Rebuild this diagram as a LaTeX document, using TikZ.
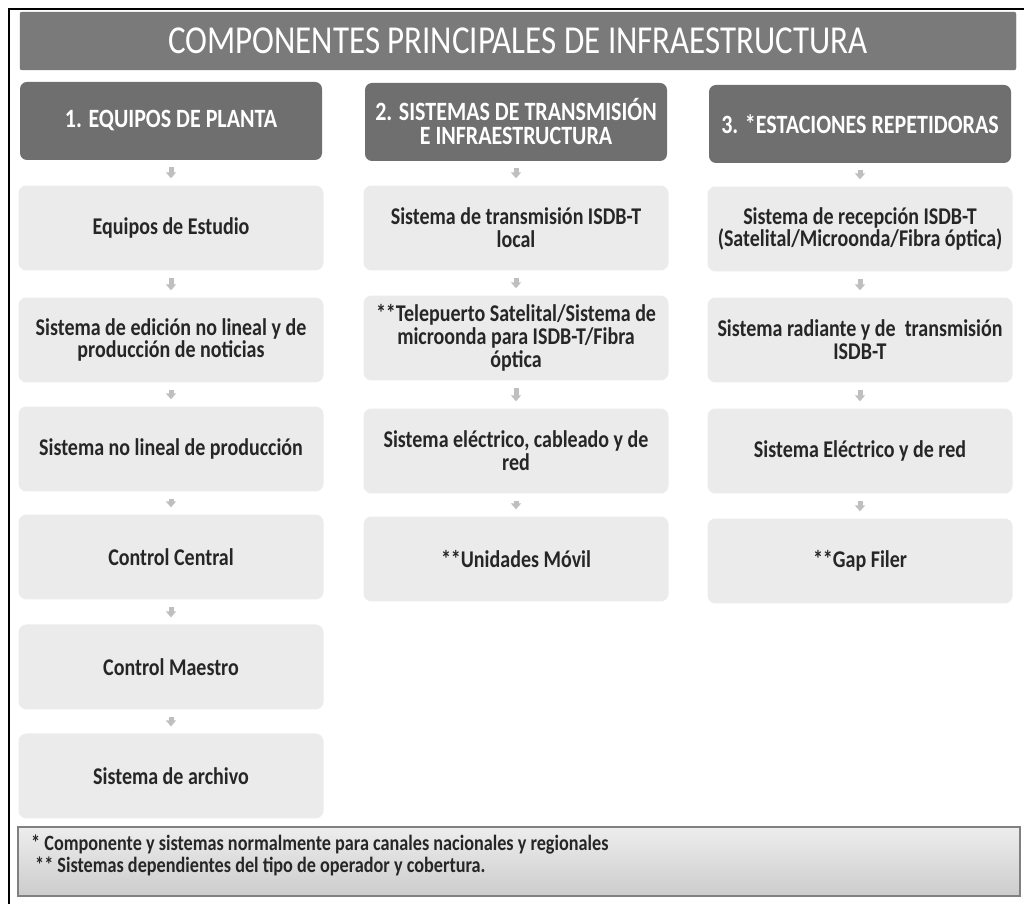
\documentclass[tikz,border=0pt]{standalone}
\usepackage{fontspec}
\setmainfont{Carlito}
\usetikzlibrary{arrows.meta}

\definecolor{titulogris}{HTML}{7A7A7A}
\definecolor{cabgris}{HTML}{6F6F6F}
\definecolor{cajagris}{HTML}{EBEBEB}
\definecolor{textogris}{HTML}{262626}
\definecolor{flechagris}{HTML}{BFBFBF}

\tikzset{
	titulo/.style={rectangle, rounded corners=2pt, fill=titulogris, draw=black!55, text=white,
		font=\fontsize{33}{33}\selectfont, minimum width=996pt, minimum height=48.3pt},
	cabecera/.style={rectangle, rounded corners=7pt, fill=cabgris, text=white, align=center,
		font=\bfseries\fontsize{22}{20}\selectfont, minimum width=302pt, minimum height=65pt},
	caja/.style={rectangle, rounded corners=8pt, fill=cajagris, text=textogris, align=center,
		font=\bfseries\fontsize{20}{19}\selectfont, minimum width=305pt, minimum height=70.8pt},
	pie/.style={rectangle, draw=black!50, line width=1.2pt, top color=black!7, bottom color=black!20,
		minimum width=1002pt, minimum height=57.5pt},
	notas/.style={inner sep=0pt, align=left, text=textogris, font=\bfseries\fontsize{18.2}{18.3}\selectfont},
	flecha/.style={-{Triangle[width=10pt,length=6pt]}, line width=5pt, draw=flechagris,
		shorten <=7pt, shorten >=7pt}
}

\begin{document}
\begin{tikzpicture}[x=1pt, y=-0.8333pt, yscale=1.2, transform shape]
	\useasboundingbox (0,0) rectangle (1024,904);
	\clip (0,0) rectangle (1024,904);
	\draw [line width=1.5pt] (9,9) rectangle (1040,920);

	\node[titulo] (titulo) at (518,41) {COMPONENTES PRINCIPALES DE INFRAESTRUCTURA};

	% cabeceras
	\node[cabecera] (c1) at (171,121) {1. EQUIPOS DE PLANTA};
	\node[cabecera] (c2) at (516,122) {2. SISTEMAS DE TRANSMISIÓN\\E INFRAESTRUCTURA};
	\node[cabecera] (c3) at (860,124) {3. *ESTACIONES REPETIDORAS};

	% equipos de planta
	\node[caja] (e1) at (171,228) {Equipos de Estudio};
	\node[caja] (e2) at (171,340) {Sistema de edición no lineal y de\\producción de noticias};
	\node[caja] (e3) at (171,449) {Sistema no lineal de producción};
	\node[caja] (e4) at (171,557) {Control Central};
	\node[caja] (e5) at (171,667) {Control Maestro};
	\node[caja] (e6) at (171,776) {Sistema de archivo};

	% transmision
	\node[caja] (s1) at (516,228) {Sistema de transmisión ISDB-T\\local};
	\node[caja] (s2) at (516,338) {**Telepuerto Satelital/Sistema de\\microonda para ISDB-T/Fibra\\óptica};
	\node[caja] (s3) at (516,451) {Sistema eléctrico, cableado y de\\red};
	\node[caja] (s4) at (516,559) {**Unidades Móvil};

	% repetidoras
	\node[caja] (r1) at (860,229) {Sistema de recepción ISDB-T\\(Satelital/Microonda/Fibra óptica)};
	\node[caja] (r2) at (860,340) {Sistema radiante y de\ \ transmisión\\ISDB-T};
	\node[caja] (r3) at (860,451) {Sistema Eléctrico y de red};
	\node[caja] (r4) at (860,561) {**Gap Filer};

	\draw[flecha] (c1) -- (e1);
	\draw[flecha] (e1) -- (e2);
	\draw[flecha] (e2) -- (e3);
	\draw[flecha] (e3) -- (e4);
	\draw[flecha] (e4) -- (e5);
	\draw[flecha] (e5) -- (e6);

	\draw[flecha] (c2) -- (s1);
	\draw[flecha] (s1) -- (s2);
	\draw[flecha] (s2) -- (s3);
	\draw[flecha] (s3) -- (s4);

	\draw[flecha] (c3) -- (r1);
	\draw[flecha] (r1) -- (r2);
	\draw[flecha] (r2) -- (r3);
	\draw[flecha] (r3) -- (r4);

	% notas
	\node[pie] (pie) at (519,861.5) {};
	\node[notas, anchor=north west] (notas) at (31,835) {* Componente y sistemas normalmente para canales nacionales y regionales\\\hspace{4pt}** Sistemas dependientes del tipo de operador y cobertura.};
\end{tikzpicture}
\end{document}
